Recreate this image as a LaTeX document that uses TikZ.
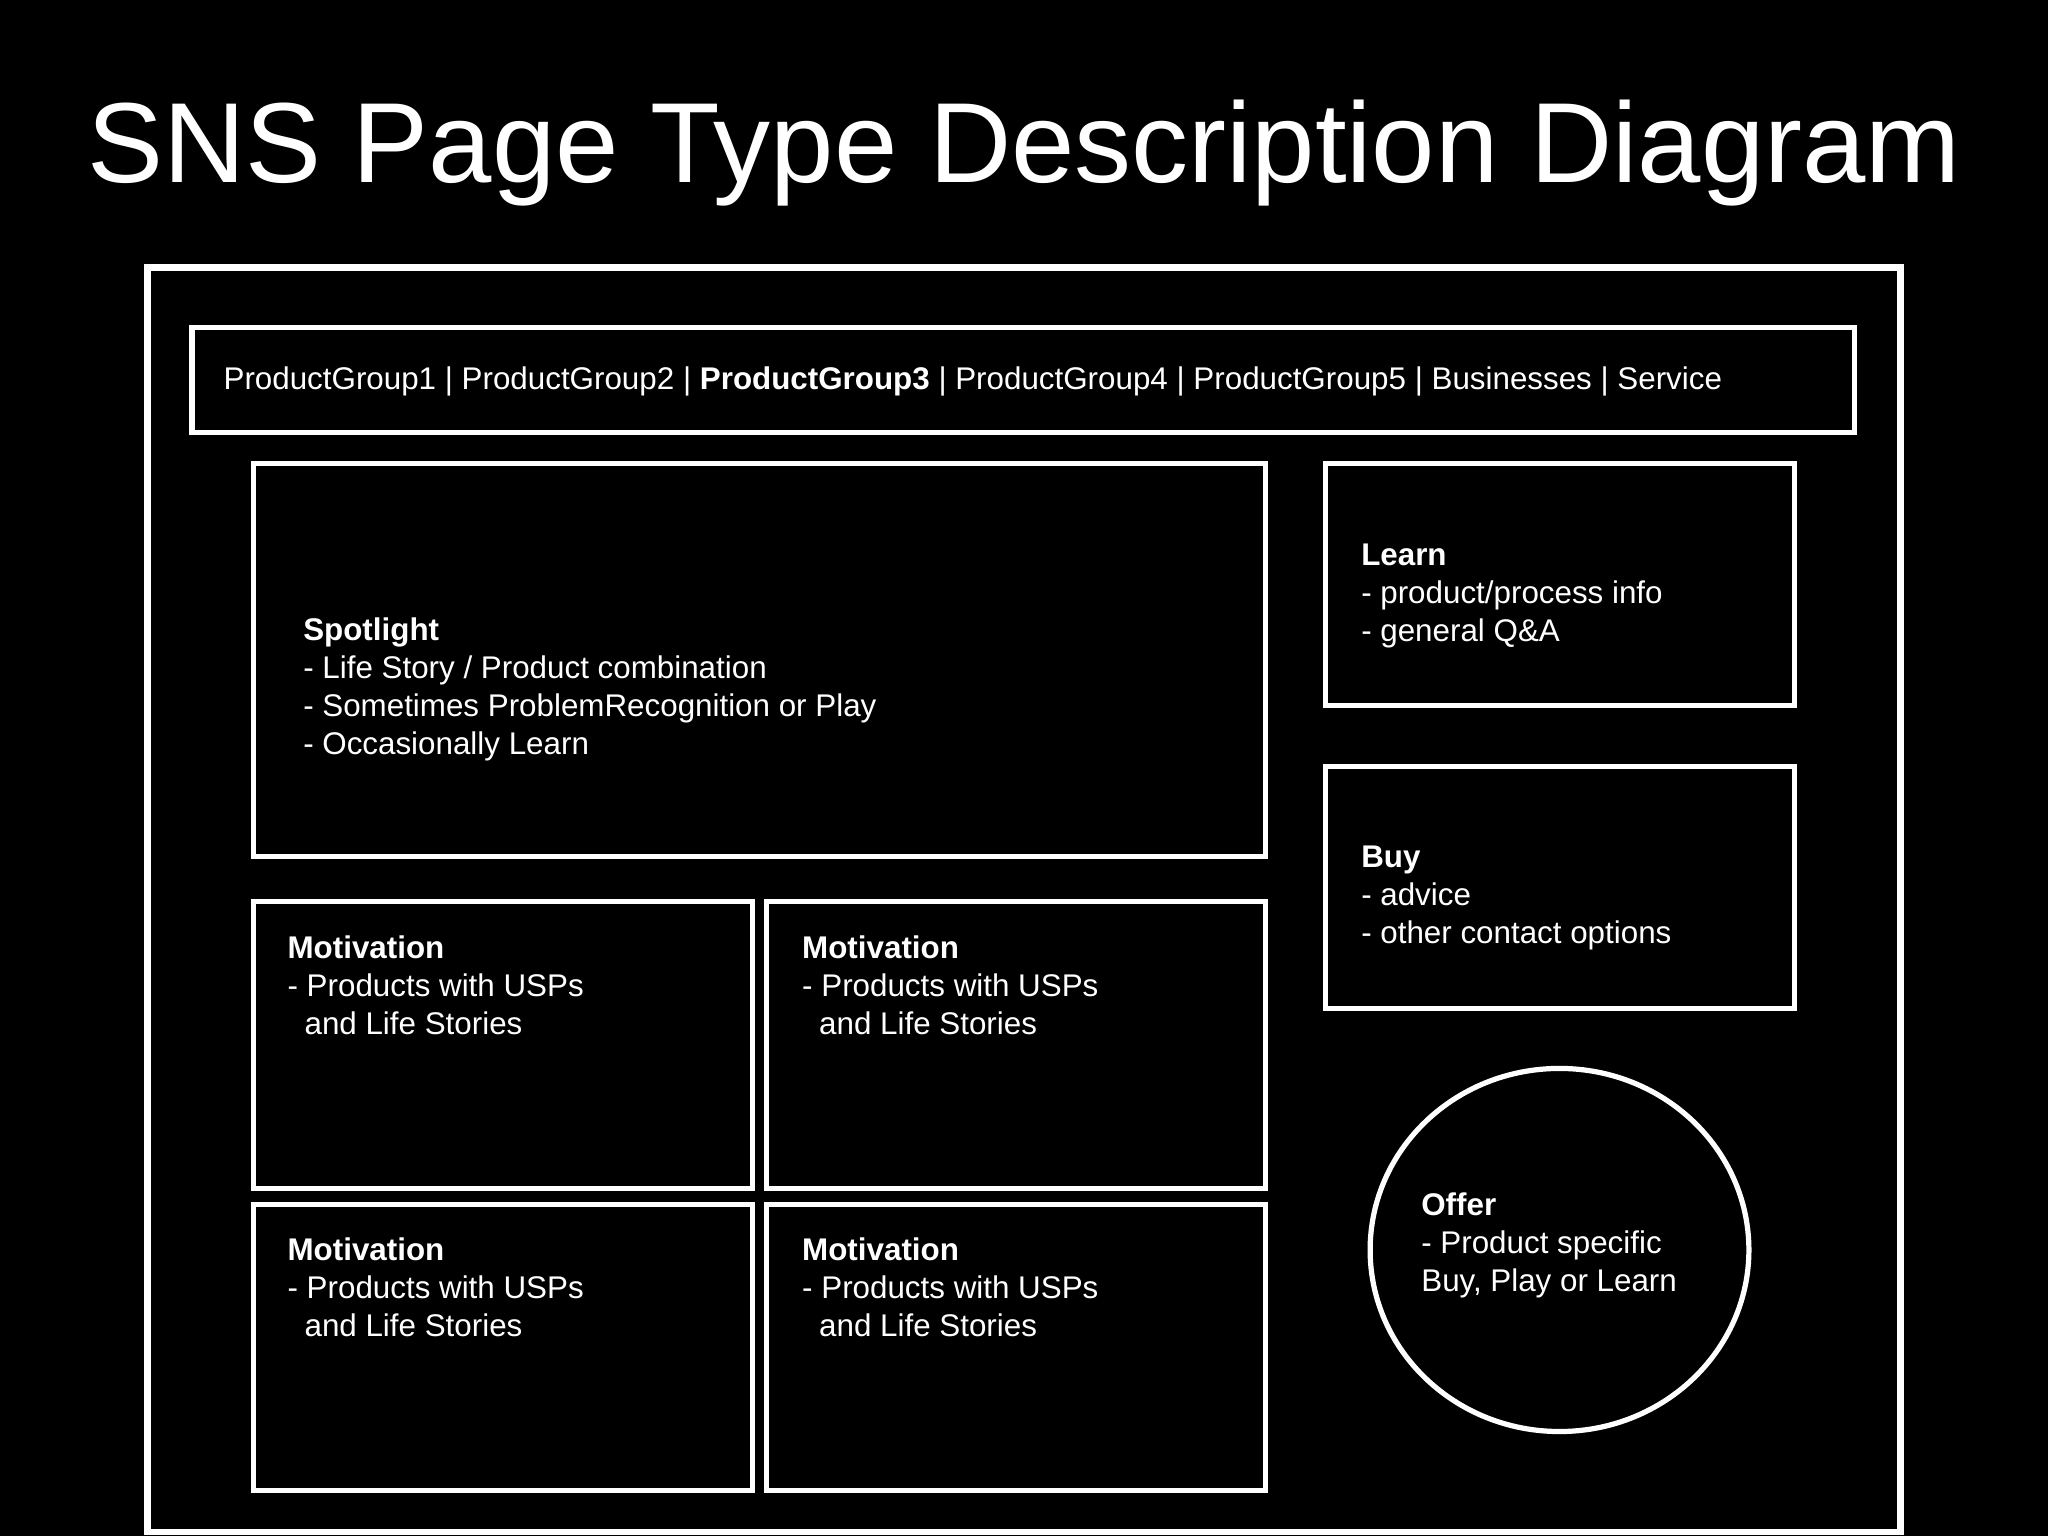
\documentclass[tikz,border=0pt]{standalone}
\usepackage{fontspec}
\setmainfont{Liberation Sans}
\begin{document}
\begin{tikzpicture}[x=1pt,y=-1pt,
  box/.style={draw=white,line width=4pt,fill=black,inner sep=0pt,rectangle},
  frame/.style={draw=white,line width=5pt,inner sep=0pt,rectangle},
  txt/.style={text=white,inner sep=0pt,align=left,anchor=west,font=\fontsize{24}{29}\selectfont},
  ttl/.style={text=white,inner sep=0pt,anchor=base,font=\fontsize{87.2}{100}\selectfont}]
\fill[black] (0,0) rectangle (1568,1176);
\useasboundingbox (0,0) rectangle (1568,1176);
\node[ttl] (title) at (784,140) {SNS Page Type Description Diagram};
\node[frame,minimum width=1342pt,minimum height=968pt] (outer) at (784,689) {};
\node[box,minimum width=1273pt,minimum height=80pt] (nav) at (783.5,291) {};
\node[txt,anchor=base west] (navt) at (171,298) {ProductGroup1 | ProductGroup2 | \textbf{ProductGroup3} | ProductGroup4 | ProductGroup5 | Businesses | Service};
\node[box,minimum width=775pt,minimum height=301pt] (spot) at (581.5,505.5) {};
\node[txt] (spott) at (232,528) {\textbf{Spotlight}\\- Life Story / Product combination\\- Sometimes ProblemRecognition or Play\\- Occasionally Learn};
\node[box,minimum width=359pt,minimum height=185pt] (learn) at (1194.5,447.5) {};
\node[txt] (learnt) at (1042,456.5) {\textbf{Learn}\\- product/process info\\- general Q\&A};
\node[box,minimum width=359pt,minimum height=185pt] (buy) at (1194.5,679.5) {};
\node[txt] (buyt) at (1042,687.5) {\textbf{Buy}\\- advice\\- other contact options};
\node[box,minimum width=382pt,minimum height=220pt] (m1) at (385,800) {};
\node[box,minimum width=382pt,minimum height=220pt] (m2) at (778,800) {};
\node[box,minimum width=382pt,minimum height=219pt] (m3) at (385,1031.5) {};
\node[box,minimum width=382pt,minimum height=219pt] (m4) at (778,1031.5) {};
\node[txt] (m1t) at (220,754.5) {\textbf{Motivation}\\- Products with USPs\\\hspace*{13pt}and Life Stories};
\node[txt] (m2t) at (614,754.5) {\textbf{Motivation}\\- Products with USPs\\\hspace*{13pt}and Life Stories};
\node[txt] (m3t) at (220,985.5) {\textbf{Motivation}\\- Products with USPs\\\hspace*{13pt}and Life Stories};
\node[txt] (m4t) at (614,985.5) {\textbf{Motivation}\\- Products with USPs\\\hspace*{13pt}and Life Stories};
\draw[white,line width=4pt] (1194,957) ellipse [x radius=145, y radius=139];
\coordinate (offer) at (1194,957);
\node[txt] (offert) at (1088,953.5) {\textbf{Offer}\\- Product specific\\Buy, Play or Learn};
\end{tikzpicture}
\end{document}
